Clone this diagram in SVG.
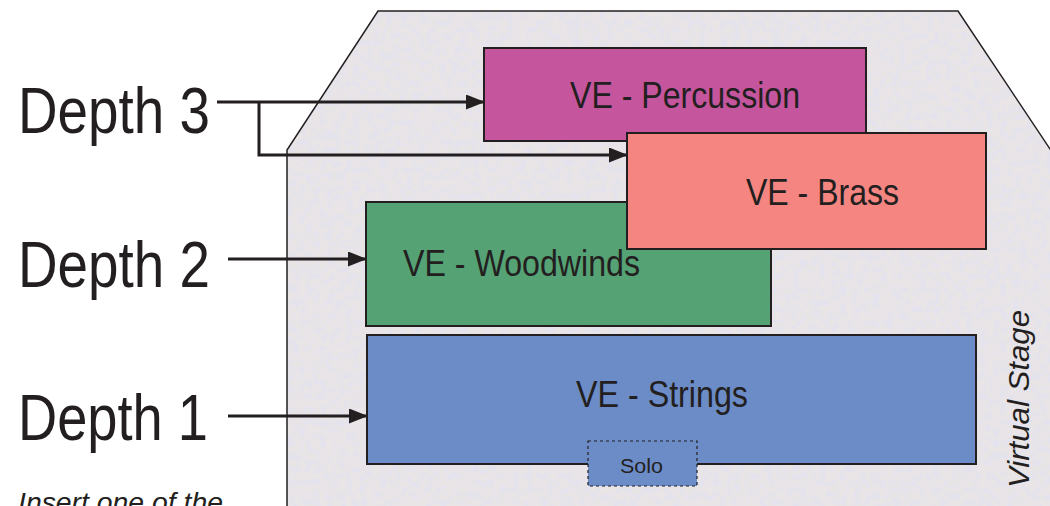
<svg xmlns="http://www.w3.org/2000/svg" width="1050" height="506" viewBox="0 0 1050 506">
<style>
.box{stroke:#231f20;stroke-width:2}
.lbl{font-family:"Liberation Sans",Arial,sans-serif;fill:#231f20}
.big{font-size:64px}
.mid{font-size:37px}
.con{stroke:#231f20;stroke-width:3;fill:none}
</style>
<defs>
<marker id="ah" viewBox="0 0 19 15" refX="18" refY="7.5" markerWidth="19" markerHeight="15" markerUnits="userSpaceOnUse" orient="auto">
<path d="M0,0 L19,7.5 L0,15 z" fill="#231f20"/>
</marker>
<filter id="noise" x="0" y="0" width="100%" height="100%">
<feTurbulence type="fractalNoise" baseFrequency="0.15" numOctaves="3" seed="5" result="n"/>
<feColorMatrix in="n" type="matrix" values="0 0 0 0 0.76  0 0 0 0 0.77  0 0 0 0 0.87  5 0 0 0 -2.3" result="c"/>
<feComposite in="c" in2="SourceGraphic" operator="in"/>
</filter>
</defs>
<rect width="1050" height="506" fill="#ffffff"/>
<g id="stage">
<path d="M287,510 L287,150 L378,11 L958,11 L1052,152 L1052,510 z" fill="#e9e4e6"/>
<path d="M287,510 L287,150 L378,11 L958,11 L1052,152 L1052,510 z" fill="#e9e4e6" filter="url(#noise)" opacity="0.7"/>
<path d="M287,510 L287,150 L378,11 L958,11 L1052,152" fill="none" stroke="#231f20" stroke-width="1.5"/>
<text class="lbl" font-size="30" font-style="italic" transform="translate(1029,488) rotate(-90)" textLength="178" lengthAdjust="spacingAndGlyphs">Virtual Stage</text>
</g>
<g id="percussion">
<rect class="box" x="484" y="48" width="382" height="93" fill="#c5569e"/>
<text class="lbl mid" x="570" y="108" textLength="230" lengthAdjust="spacingAndGlyphs">VE - Percussion</text>
</g>
<g id="woodwinds">
<rect class="box" x="366" y="202" width="405" height="124" fill="#55a275"/>
<text class="lbl mid" x="403" y="276" textLength="237" lengthAdjust="spacingAndGlyphs">VE - Woodwinds</text>
</g>
<g id="strings">
<rect class="box" x="367" y="335" width="609" height="129" fill="#6b8cc7"/>
<text class="lbl mid" x="576" y="407" textLength="172" lengthAdjust="spacingAndGlyphs">VE - Strings</text>
</g>
<g id="solo">
<rect x="588" y="441" width="109" height="45" fill="#6b8cc7" stroke="#231f20" stroke-width="1.2" stroke-dasharray="3,3"/>
<text class="lbl" font-size="21" x="620" y="473" textLength="43" lengthAdjust="spacingAndGlyphs">Solo</text>
</g>
<g id="brass">
<rect class="box" x="627" y="133" width="359" height="116" fill="#f48580"/>
<text class="lbl mid" x="746" y="205" textLength="153" lengthAdjust="spacingAndGlyphs">VE - Brass</text>
</g>
<g id="depth3">
<text class="lbl big" x="18" y="133" textLength="192" lengthAdjust="spacingAndGlyphs">Depth 3</text>
</g>
<g id="depth2">
<text class="lbl big" x="18" y="287" textLength="192" lengthAdjust="spacingAndGlyphs">Depth 2</text>
</g>
<g id="depth1">
<text class="lbl big" x="18" y="440" textLength="190" lengthAdjust="spacingAndGlyphs">Depth 1</text>
</g>
<g id="note">
<text class="lbl" font-size="27" font-style="italic" x="18" y="512" textLength="205" lengthAdjust="spacingAndGlyphs">Insert one of the</text>
</g>
<g id="connectors">
<path class="con" d="M217,102 L484,102" marker-end="url(#ah)"/>
<path class="con" d="M259,102 L259,155 L627,155" marker-end="url(#ah)"/>
<path class="con" d="M228,259 L366,259" marker-end="url(#ah)"/>
<path class="con" d="M228,416 L367,416" marker-end="url(#ah)"/>
</g>
</svg>
